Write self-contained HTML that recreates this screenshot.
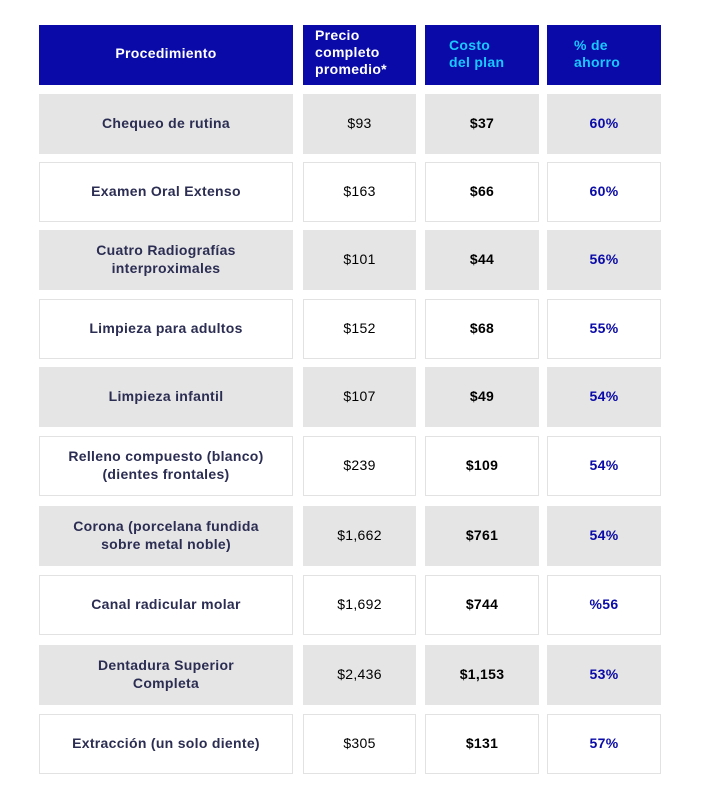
<!DOCTYPE html><html><head><style>
body{margin:0;width:704px;height:800px;background:#fff;font-family:"Liberation Sans",sans-serif;position:relative;overflow:hidden}
.c{position:absolute;box-sizing:border-box;display:flex;align-items:center;justify-content:center;text-align:center;font-size:14px;line-height:18px;padding-bottom:3px;letter-spacing:0.3px}
.h{background:#0a0aa8;color:#fff;font-weight:bold;font-size:14px;line-height:17px;justify-content:flex-start;text-align:left;padding-left:12px}
.g{background:#e5e5e5}
.w{background:#fff;border:1px solid #e2e2e2}
.p{color:#2b2d52;font-weight:bold}
.b{font-weight:bold;color:#000}
.s{font-weight:bold;color:#0a0aa8}
</style></head><body>
<div class="c h" style="left:39px;top:25px;width:254px;height:60px;justify-content:center;padding:0 0 3px 0">Procedimiento</div>
<div class="c h" style="left:303px;top:25px;width:113px;height:60px;align-items:flex-start;padding-top:2px">Precio<br>completo<br>promedio*</div>
<div class="c h" style="left:425px;top:25px;width:114px;height:60px;color:#1ac8ff;padding-left:24px">Costo<br>del plan</div>
<div class="c h" style="left:547px;top:25px;width:114px;height:60px;color:#1ac8ff;padding-left:27px">% de<br>ahorro</div>
<div id="rows"></div>
<script>
var d=[["Chequeo de rutina","$93","$37","60%"],["Examen Oral Extenso","$163","$66","60%"],["Cuatro Radiografías<br>interproximales","$101","$44","56%"],["Limpieza para adultos","$152","$68","55%"],["Limpieza infantil","$107","$49","54%"],["Relleno compuesto (blanco)<br>(dientes frontales)","$239","$109","54%"],["Corona (porcelana fundida<br>sobre metal noble)","$1,662","$761","54%"],["Canal radicular molar","$1,692","$744","%56"],["Dentadura Superior<br>Completa","$2,436","$1,153","53%"],["Extracción (un solo diente)","$305","$131","57%"]];
var t=[94,162,230,299,367,436,506,575,645,714],x=[[39,254],[303,113],[425,114],[547,114]],cl=["p","","b","s"],h="";
d.forEach(function(r,i){var bg=i%2?"w":"g";r.forEach(function(v,j){h+='<div class="c '+bg+' '+cl[j]+'" style="left:'+x[j][0]+'px;top:'+t[i]+'px;width:'+x[j][1]+'px;height:60px">'+v+'</div>';});});
document.getElementById("rows").innerHTML=h;
</script>
</body></html>
